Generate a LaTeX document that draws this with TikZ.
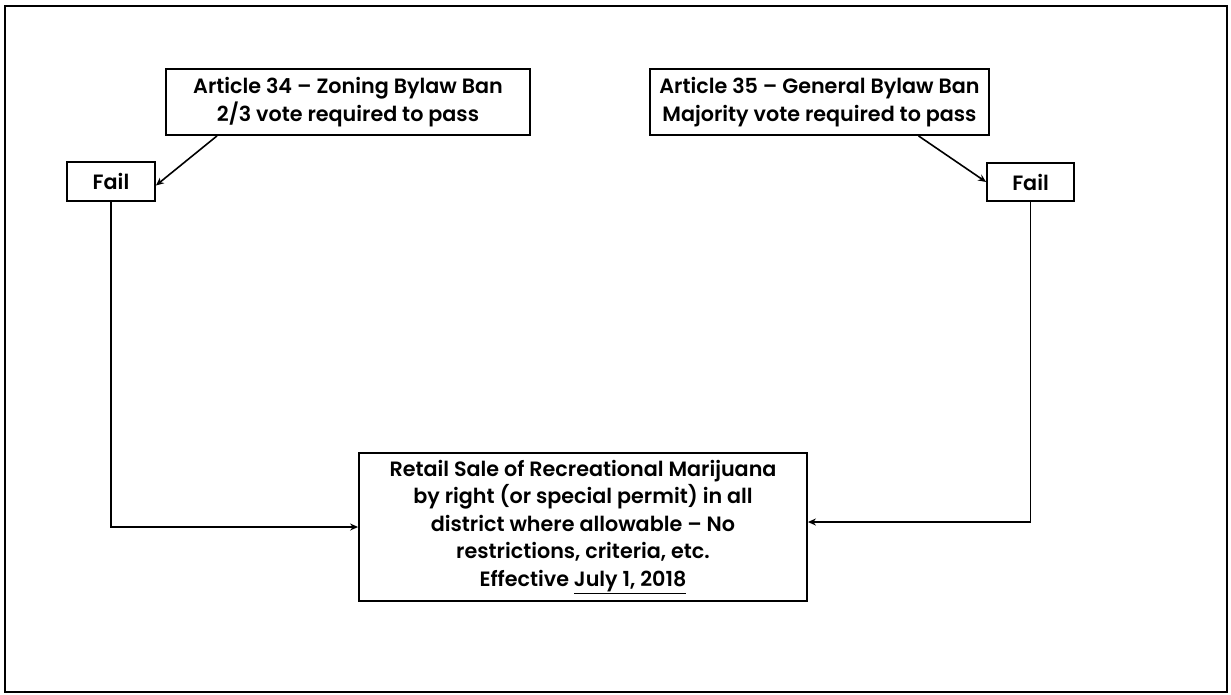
\documentclass[tikz,border=0pt]{standalone}
\usepackage{fontspec}
\setmainfont{Poppins}[BoldFont={* SemiBold}]
\usetikzlibrary{arrows.meta}
\begin{document}
\begin{tikzpicture}[x=1pt,y=-1pt,
  box/.style={draw=black,line width=1.8pt,inner sep=0pt,align=center,font=\bfseries\fontsize{20.7}{27.5}\selectfont},
  conn/.style={line width=1.6pt,-{Stealth[length=8pt,width=7pt]}}]
\useasboundingbox (0,0) rectangle (1231,694);
\draw[line width=2.2pt] (5,6) rectangle (1227,692);
\node[box,minimum width=364pt,minimum height=66pt] (a34) at (348,102) {Article 34 -- Zoning Bylaw Ban\\2/3 vote required to pass};
\node[box,minimum width=339pt,minimum height=66pt] (a35) at (819.5,102) {Article 35 -- General Bylaw Ban\\Majority vote required to pass};
\node[box,minimum width=88pt,minimum height=39pt] (f1) at (111,181.5) {Fail};
\node[box,minimum width=87pt,minimum height=38pt] (f2) at (1030.5,182) {Fail};
\node[box,minimum width=448pt,minimum height=148pt] (ret) at (583,527) {Retail Sale of Recreational Marijuana\\by right (or special permit) in all\\district where allowable -- No\\restrictions, criteria, etc.\\Effective \underline{July 1, 2018}};
\draw[conn] ([xshift=-131pt]a34.south) -- ([yshift=-4pt]f1.east);
\draw[conn] ([xshift=99pt]a35.south) -- (f2.west);
\coordinate (c1) at (f1.south |- ret.west);
\coordinate (c2) at ([yshift=5pt]f2.south |- ret.east);
\draw[conn] (f1.south) -- (c1) -- (ret.west);
\draw[conn] (f2.south) -- (c2) -- ([yshift=5pt]ret.east);
\end{tikzpicture}
\end{document}
